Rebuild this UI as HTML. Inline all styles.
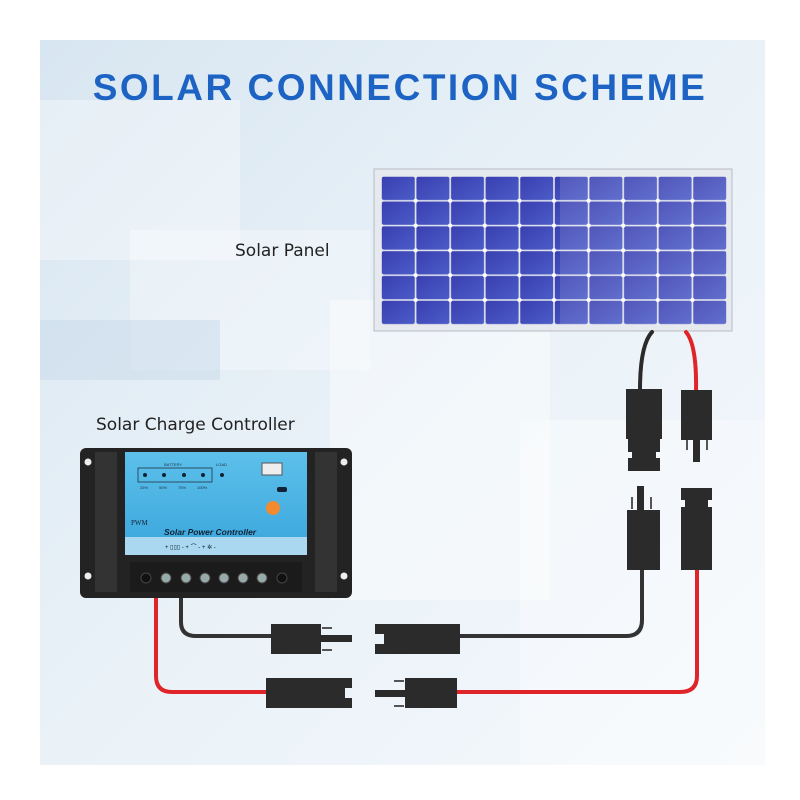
<!DOCTYPE html>
<html><head><style>
html,body{margin:0;padding:0;background:#fff;}
svg{display:block;}
</style></head><body>
<svg width="800" height="800" viewBox="0 0 800 800" xmlns="http://www.w3.org/2000/svg">
<defs>
<linearGradient id="bg" x1="0" y1="0" x2="1" y2="1">
<stop offset="0" stop-color="#d8e6f1"/><stop offset="0.5" stop-color="#eaf2f8"/><stop offset="1" stop-color="#f4f8fb"/>
</linearGradient>
<linearGradient id="cell" x1="0" y1="0" x2="1" y2="1">
<stop offset="0" stop-color="#3a3fb0"/><stop offset="1" stop-color="#4b5cc8"/>
</linearGradient>
<linearGradient id="face" x1="0" y1="0" x2="0" y2="1">
<stop offset="0" stop-color="#5cc0ea"/><stop offset="1" stop-color="#3aa5dc"/>
</linearGradient>
<pattern id="cells" x="381" y="176" width="34.6" height="24.8" patternUnits="userSpaceOnUse">
<rect x="0.8" y="0.8" width="33" height="23.2" rx="2" fill="url(#cell)"/>
</pattern>
</defs>
<rect x="40" y="40" width="725" height="725" fill="url(#bg)"/>
<rect x="40" y="100" width="200" height="160" fill="#fff" opacity="0.35"/>
<rect x="130" y="230" width="240" height="140" fill="#fff" opacity="0.3"/>
<rect x="40" y="320" width="180" height="60" fill="#c7daea" opacity="0.5"/>
<rect x="330" y="300" width="220" height="300" fill="#fff" opacity="0.4"/>
<rect x="520" y="420" width="245" height="345" fill="#fff" opacity="0.35"/>

<text x="400" y="100" text-anchor="middle" font-family="Liberation Sans, sans-serif" font-weight="bold" font-size="37" letter-spacing="2.5" fill="#1d63c4">SOLAR CONNECTION SCHEME</text>
<text x="235" y="256" font-family="DejaVu Sans, sans-serif" font-size="17" fill="#222">Solar Panel</text>
<text x="96" y="430" font-family="DejaVu Sans, sans-serif" font-size="17" fill="#222">Solar Charge Controller</text>

<!-- solar panel -->
<rect x="374" y="169" width="358" height="162" fill="#e6e9ee" stroke="#b8bcc4"/>
<rect x="381" y="176" width="346" height="149" fill="url(#cells)"/>
<g fill="#fff">
<g id="dots">
<circle cx="415.6" cy="200.8" r="2"/><circle cx="450.2" cy="200.8" r="2"/><circle cx="484.8" cy="200.8" r="2"/><circle cx="519.4" cy="200.8" r="2"/><circle cx="554" cy="200.8" r="2"/><circle cx="588.6" cy="200.8" r="2"/><circle cx="623.2" cy="200.8" r="2"/><circle cx="657.8" cy="200.8" r="2"/><circle cx="692.4" cy="200.8" r="2"/>
</g>
<use href="#dots" y="24.8"/><use href="#dots" y="49.6"/><use href="#dots" y="74.4"/><use href="#dots" y="99.2"/>
</g>
<rect x="560" y="176" width="167" height="149" fill="#fff" opacity="0.12"/>

<!-- cables -->
<g fill="none" stroke-width="4" stroke-linecap="round">
<path d="M652 332 Q640 345 640 390" stroke="#2a2a2a"/>
<path d="M686 332 Q697 345 696 392" stroke="#e0252a"/>
<path d="M642 570 L642 620 Q642 636 626 636 L460 636" stroke="#333"/>
<path d="M181 598 L181 622 Q181 636 196 636 L272 636" stroke="#333"/>
<path d="M156 598 L156 676 Q156 692 172 692 L268 692" stroke="#e0252a"/>
<path d="M456 692 L680 692 Q697 692 697 676 L697 570" stroke="#e0252a"/>
</g>

<!-- vertical connectors -->
<g fill="#2b2b2b">
<rect x="626" y="389" width="36" height="50"/>
<path d="M628 439 H660 V452 H656 V458 H660 V471 H628 V458 H632 V452 H628Z"/>
<rect x="681" y="390" width="31" height="50"/>
<rect x="693" y="440" width="7" height="22"/>
<rect x="686" y="440" width="2" height="10" fill="#555"/><rect x="706" y="440" width="2" height="10" fill="#555"/>
<rect x="637" y="486" width="7" height="24"/>
<rect x="631" y="497" width="2" height="12" fill="#555"/><rect x="650" y="497" width="2" height="12" fill="#555"/>
<rect x="627" y="510" width="33" height="60"/>
<path d="M681 488 H712 V500 H708 V507 H712 V570 H681 V507 H685 V500 H681Z"/>
</g>
<!-- horizontal connectors -->
<g fill="#2b2b2b">
<rect x="271" y="624" width="50" height="30"/>
<rect x="320" y="635" width="32" height="7"/>
<rect x="322" y="627" width="10" height="2" fill="#555"/><rect x="322" y="649" width="10" height="2" fill="#555"/>
<path d="M375 624 H460 V654 H375 V644 H384 V634 H375Z"/>
<path d="M266 678 H352 V688 H345 V698 H352 V708 H266Z"/>
<rect x="405" y="678" width="52" height="30"/>
<rect x="375" y="690" width="32" height="7"/>
<rect x="394" y="680" width="10" height="2" fill="#555"/><rect x="394" y="705" width="10" height="2" fill="#555"/>
</g>

<!-- controller -->
<rect x="80" y="448" width="272" height="150" rx="6" fill="#232323"/>
<rect x="95" y="452" width="22" height="140" fill="#333"/>
<rect x="315" y="452" width="22" height="140" fill="#333"/>
<circle cx="88" cy="462" r="3.5" fill="#eee"/><circle cx="344" cy="462" r="3.5" fill="#eee"/>
<circle cx="88" cy="576" r="3.5" fill="#eee"/><circle cx="344" cy="576" r="3.5" fill="#eee"/>
<rect x="125" y="452" width="182" height="103" fill="url(#face)"/>
<rect x="125" y="537" width="182" height="18" fill="#a9d8f0"/>
<rect x="138" y="468" width="74" height="14" fill="none" stroke="#234" stroke-width="0.8"/>
<g fill="#123"><circle cx="145" cy="475" r="2"/><circle cx="164" cy="475" r="2"/><circle cx="184" cy="475" r="2"/><circle cx="203" cy="475" r="2"/><circle cx="222" cy="475" r="2"/></g>
<g font-family="Liberation Sans, sans-serif" font-size="4" fill="#234">
<text x="164" y="466">BATTERY</text><text x="216" y="466">LOAD</text>
<text x="140" y="489">25%</text><text x="159" y="489">50%</text><text x="178" y="489">75%</text><text x="197" y="489">100%</text>
</g>
<rect x="262" y="463" width="20" height="12" fill="#eee" stroke="#555"/>
<rect x="277" y="487" width="10" height="5" rx="2" fill="#123"/>
<circle cx="273" cy="508" r="7" fill="#f28a2e"/>
<text x="131" y="525" font-family="Liberation Serif, serif" font-size="7" fill="#123">PWM</text>
<text x="164" y="535" font-family="Liberation Sans, sans-serif" font-style="italic" font-weight="bold" font-size="8.5" fill="#123">Solar Power Controller</text>
<text x="165" y="549" font-family="Liberation Sans, sans-serif" font-size="6" fill="#123">+ ▯▯▯ -     + ⌒ -     + ✲ -</text>
<rect x="130" y="562" width="172" height="30" fill="#1b1b1b"/>
<g fill="#9aa" stroke="#444"><circle cx="146" cy="578" r="5" fill="#111"/><circle cx="166" cy="578" r="5"/><circle cx="186" cy="578" r="5"/><circle cx="205" cy="578" r="5"/><circle cx="224" cy="578" r="5"/><circle cx="243" cy="578" r="5"/><circle cx="262" cy="578" r="5"/><circle cx="282" cy="578" r="5" fill="#111"/></g>
</svg>
</body></html>
